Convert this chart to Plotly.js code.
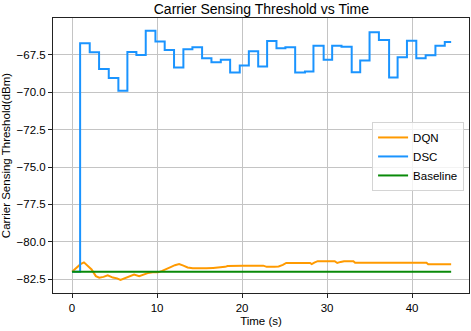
<!DOCTYPE html>
<html>
<head>
<meta charset="utf-8">
<script src="https://cdn.plot.ly/plotly-3.0.1.min.js"></script>
<style>html,body{margin:0;padding:0;background:#fff;}#chart{width:471px;height:331px;}</style>
</head>
<body>
<div id="chart"></div>
<script>
// DQN (smooth curve)
const dqnTime = [0, 0.5, 1.0, 1.4, 1.8, 2.3, 2.8, 3.2, 3.7, 4.2, 4.8, 5.3, 5.7, 6.3, 6.8, 7.3, 7.9, 8.4, 8.9, 9.5, 10.1, 10.6, 11.1, 11.6, 12.1, 12.6, 13.1, 13.6, 14.2, 15.0, 15.8, 16.6, 17.6, 18.0, 18.3, 18.9, 20.1, 22.5, 22.9, 23.8, 24.3, 24.8, 25.2, 28.0, 28.2, 28.5, 28.9, 30.9, 31.2, 31.6, 32.0, 33.1, 33.3, 41.7, 41.9, 44.6];
const dqnVals = [-82.0, -81.75, -81.5, -81.38, -81.6, -81.85, -82.3, -82.4, -82.35, -82.25, -82.4, -82.45, -82.55, -82.42, -82.3, -82.2, -82.3, -82.2, -82.1, -82.05, -82.05, -81.95, -81.85, -81.7, -81.57, -81.5, -81.6, -81.72, -81.77, -81.8, -81.78, -81.75, -81.72, -81.68, -81.62, -81.6, -81.6, -81.6, -81.68, -81.68, -81.65, -81.55, -81.42, -81.42, -81.5, -81.4, -81.3, -81.3, -81.42, -81.35, -81.3, -81.3, -81.4, -81.4, -81.5, -81.5];
// DSC (step values, held until next time)
const dscTime = [0, 0.95, 2.08, 3.18, 4.32, 5.45, 6.51, 7.57, 8.67, 9.81, 10.9, 12.0, 13.1, 14.16, 15.3, 16.4, 17.5, 18.6, 19.73, 20.8, 21.9, 22.95, 24.05, 25.1, 26.25, 27.4, 28.4, 29.6, 30.6, 31.7, 32.9, 33.9, 35.0, 36.1, 37.3, 38.3, 39.4, 40.5, 41.6, 42.75, 43.85, 44.6];
const dscVals = [-82, -66.72, -67.32, -68.45, -69.05, -69.9, -67.3, -67.5, -65.88, -66.61, -67.17, -68.34, -67.12, -66.99, -67.72, -67.99, -67.83, -68.68, -68.21, -67.25, -68.28, -66.57, -67.05, -66.99, -68.68, -68.61, -66.88, -67.83, -66.88, -66.95, -68.66, -67.88, -65.99, -66.5, -69.01, -67.66, -66.55, -67.72, -67.52, -66.88, -66.63, -66.63];
// Baseline
const baseTime = [0, 44.6];
const baseVals = [-82, -82];

const seriesNames = ['DQN', 'DSC', 'Baseline'];
const titleText = 'Carrier Sensing Threshold vs Time';
const xTitle = 'Time (s)';
const yTitle = 'Carrier Sensing Threshold(dBm)';

const FONT = 'Liberation Sans, Arial, Helvetica, sans-serif';

const traces = [
  {x: dqnTime, y: dqnVals, name: seriesNames[0], mode: 'lines', line: {color: '#ff9a00', width: 2}},
  {x: dscTime, y: dscVals, name: seriesNames[1], mode: 'lines', line: {color: '#1a94ff', width: 2, shape: 'hv'}},
  {x: baseTime, y: baseVals, name: seriesNames[2], mode: 'lines', line: {color: '#098a09', width: 2}}
];

const axisCommon = {
  showline: true, linecolor: '#222', linewidth: 1, mirror: true,
  ticks: 'outside', ticklen: 4, tickwidth: 1, tickcolor: '#222',
  showgrid: true, gridcolor: '#c4c4c4', gridwidth: 1,
  zeroline: false,
  tickfont: {family: FONT, size: 11.5, color: '#000'}
};

const layout = {
  width: 471, height: 331,
  margin: {l: 53, r: 2, t: 18, b: 38, pad: 0},
  paper_bgcolor: '#fff', plot_bgcolor: '#fff',
  font: {family: FONT, color: '#000'},
  title: {text: titleText, font: {family: FONT, size: 14, color: '#000'}, x: 0.555, xref: 'container', xanchor: 'center', y: 0.973, yref: 'container', yanchor: 'middle'},
  xaxis: Object.assign({}, axisCommon, {
    range: [-2.24, 46.7], tickvals: [0, 10, 20, 30, 40],
    title: {text: xTitle, font: {family: FONT, size: 11.5, color: '#000'}, standoff: 4}
  }),
  yaxis: Object.assign({}, axisCommon, {
    range: [-83.43, -65.03], tick0: -82.5, dtick: 2.5, tickformat: '.1f',
    title: {text: yTitle, font: {family: FONT, size: 11.5, color: '#000'}, standoff: 4}
  }),
  showlegend: true,
  legend: {
    x: 0.767, y: 0.622, xanchor: 'left', yanchor: 'top',
    bgcolor: 'rgba(255,255,255,0.8)', bordercolor: '#d4d4d4', borderwidth: 1,
    font: {family: FONT, size: 11.5, color: '#000'},
    tracegroupgap: 0
  }
};

Plotly.newPlot('chart', traces, layout, {staticPlot: true, displayModeBar: false});
</script>
</body>
</html>
